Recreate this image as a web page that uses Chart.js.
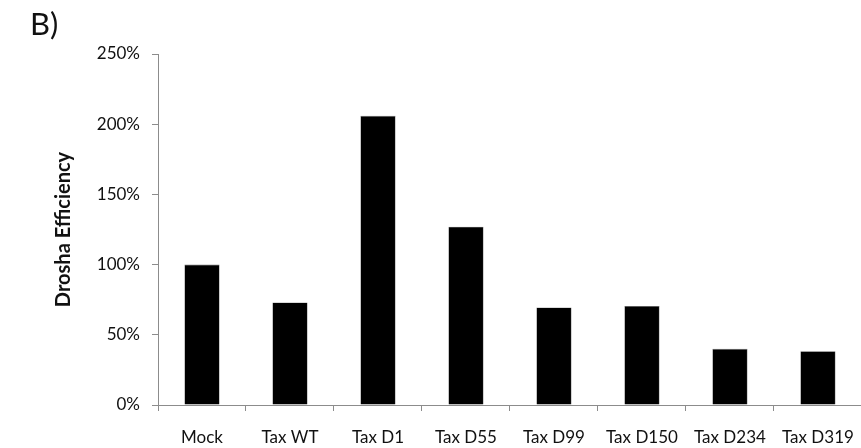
<!DOCTYPE html>
<html>
<head>
<meta charset="utf-8">
<script src="https://cdn.jsdelivr.net/npm/chart.js@4/dist/chart.umd.min.js"></script>
<style>
  html, body { margin: 0; padding: 0; background: #fff; overflow: hidden; }
  #wrap { position: relative; width: 870px; height: 448px; }
  #panel { position: absolute; left: 30px; top: 4px; font-family: Lato, "Open Sans", sans-serif; font-size: 31px; color: #111; }
</style>
</head>
<body>
<div id="wrap">
  <canvas id="c" width="870" height="448"></canvas>
  <div id="panel">B)</div>
</div>
<script>
// Drosha processing efficiency per construct (percent of mock)
const categories = ["Mock", "Tax WT", "Tax D1", "Tax D55", "Tax D99", "Tax D150", "Tax D234", "Tax D319"];
const efficiency = [100, 73, 206, 127, 69.5, 70.5, 40, 38.3];
const yTicks = [0, 50, 100, 150, 200, 250];

const font = { family: "Lato, 'Open Sans', sans-serif", size: 17 };
const axisGray = "#8c8c8c";

new Chart(document.getElementById("c"), {
  type: "bar",
  data: {
    labels: categories,
    datasets: [{
      data: efficiency,
      backgroundColor: "#000",
      borderColor: "#6e6e6e",
      borderWidth: 0.6,
      barPercentage: 0.4,
      categoryPercentage: 1.0
    }]
  },
  options: {
    responsive: false,
    animation: false,
    events: [],
    layout: { padding: { top: 54, right: 2, left: 0, bottom: 0 } },
    plugins: { legend: { display: false }, tooltip: { enabled: false } },
    scales: {
      x: {
        offset: true,
        grid: { offset: true, drawOnChartArea: false, drawTicks: true, tickLength: 6, color: axisGray },
        border: { color: axisGray, width: 1 },
        ticks: { color: "#111", font: font, padding: 16, maxRotation: 0, autoSkip: false },
        afterFit: s => { s.height = 43; }
      },
      y: {
        min: 0,
        max: 250,
        afterBuildTicks: s => { s.ticks = yTicks.map(v => ({ value: v })); },
        grid: { drawOnChartArea: false, drawTicks: true, tickLength: 6, color: axisGray },
        border: { color: axisGray, width: 1 },
        ticks: { color: "#111", font: font, padding: 12, callback: v => v + "%" },
        title: {
          display: true,
          text: "Drosha Efficiency",
          color: "#111",
          font: { family: font.family, size: 20, weight: "bold" },
          padding: { top: 52, bottom: 0 }
        },
        afterFit: s => { s.width = 158; }
      }
    }
  }
});
</script>
</body>
</html>
